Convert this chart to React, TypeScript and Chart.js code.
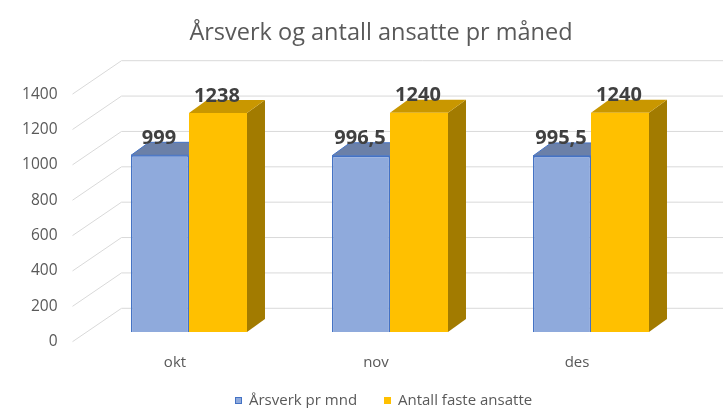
import React, { useEffect, useRef } from "react";
import { Chart, registerables } from "chart.js";

Chart.register(...registerables);

const TITLE = "Årsverk og antall ansatte pr måned";
const categories = ["okt", "nov", "des"];
const arsverk = [999, 996.5, 995.5];
const antallFaste = [1238, 1240, 1240];
const seriesNames = ["Årsverk pr mnd", "Antall faste ansatte"];
const yTicks = [0, 200, 400, 600, 800, 1000, 1200, 1400];

const FRONT = ["#8FAADC", "#FFC000"];
const TOP = ["#6B80A8", "#C99700"];
const SIDE = ["#5A6E93", "#A27B00"];
const BORDER = ["#4472C4", "#FFC000"];

const DX = 18;
const DY = -13;

const fmt = (v: number) => String(v).replace(".", ",");

const threeD = {
  id: "threeD",
  beforeDatasetsDraw(chart: any) {
    const ctx = chart.ctx as CanvasRenderingContext2D;
    const area = chart.chartArea;
    const ys = chart.scales.y;
    ctx.save();
    ctx.strokeStyle = "#D9D9D9";
    ctx.lineWidth = 1;
    for (const v of yTicks) {
      const yF = ys.getPixelForValue(v);
      ctx.beginPath();
      ctx.moveTo(area.left - 16, yF + 9.7);
      ctx.lineTo(area.left + 33, yF - 23.7);
      ctx.lineTo(chart.width, yF - 23.7);
      ctx.stroke();
    }
    chart.data.datasets.forEach((ds: any, di: number) => {
      const meta = chart.getDatasetMeta(di);
      meta.data.forEach((bar: any) => {
        const { x, y, base, width } = bar.getProps(["x", "y", "base", "width"], true);
        const l = x - width / 2;
        const r = x + width / 2;
        ctx.fillStyle = SIDE[di];
        ctx.beginPath();
        ctx.moveTo(r, y);
        ctx.lineTo(r + DX, y + DY);
        ctx.lineTo(r + DX, base + DY);
        ctx.lineTo(r, base);
        ctx.closePath();
        ctx.fill();
        ctx.fillStyle = TOP[di];
        ctx.beginPath();
        ctx.moveTo(l, y);
        ctx.lineTo(r, y);
        ctx.lineTo(r + DX, y + DY);
        ctx.lineTo(l + DX, y + DY);
        ctx.closePath();
        ctx.fill();
        if (di === 0) {
          ctx.strokeStyle = BORDER[0];
          ctx.lineWidth = 1;
          ctx.stroke();
        }
      });
    });
    ctx.restore();
  },
  afterDraw(chart: any) {
    const ctx = chart.ctx as CanvasRenderingContext2D;
    const ys = chart.scales.y;
    const xs = chart.scales.x;
    const area = chart.chartArea;
    ctx.save();
    ctx.fillStyle = "#404040";
    ctx.font = "bold 20px 'Open Sans'";
    ctx.textAlign = "center";
    ctx.textBaseline = "alphabetic";
    chart.data.datasets.forEach((ds: any, di: number) => {
      const meta = chart.getDatasetMeta(di);
      meta.data.forEach((bar: any, i: number) => {
        ctx.fillText(fmt(ds.data[i]), bar.x - 1, bar.y - 11.5);
      });
    });
    ctx.fillStyle = "#595959";
    ctx.font = "15.5px 'Open Sans'";
    ctx.textAlign = "right";
    ctx.textBaseline = "middle";
    for (const v of yTicks) {
      ctx.fillText(String(v), area.left - 31, ys.getPixelForValue(v) + 9.7);
    }
    ctx.textAlign = "center";
    ctx.textBaseline = "alphabetic";
    ctx.font = "15px 'Open Sans'";
    categories.forEach((c, i) => {
      ctx.fillText(c, xs.getPixelForValue(i) - 14, ys.getPixelForValue(0) + 34.7);
    });
    ctx.font = "23.5px 'Open Sans'";
    ctx.fillText(TITLE, 381, 39.5);
    ctx.font = "15px 'Open Sans'";
    ctx.textAlign = "left";
    const legendX = [235, 384];
    seriesNames.forEach((n, i) => {
      const bx = legendX[i];
      ctx.fillStyle = FRONT[i];
      ctx.fillRect(bx, 397, 7, 7);
      if (i === 0) {
        ctx.strokeStyle = BORDER[0];
        ctx.lineWidth = 1;
        ctx.strokeRect(bx + 0.5, 397.5, 6, 6);
      }
      ctx.fillStyle = "#595959";
      ctx.fillText(n, bx + 14, 404.5);
    });
    ctx.restore();
  },
};

export default function App() {
  const ref = useRef<HTMLCanvasElement | null>(null);
  useEffect(() => {
    document.body.style.margin = "0";
    if (!ref.current) return;
    const chart = new Chart(ref.current, {
      type: "bar",
      data: {
        labels: categories,
        datasets: [
          {
            label: seriesNames[0],
            data: arsverk,
            backgroundColor: FRONT[0],
            borderColor: BORDER[0],
            borderWidth: 1.5,
            categoryPercentage: 0.577,
            barPercentage: 1,
          },
          {
            label: seriesNames[1],
            data: antallFaste,
            backgroundColor: FRONT[1],
            borderWidth: 0,
            categoryPercentage: 0.577,
            barPercentage: 1,
          },
        ],
      },
      options: {
        animation: false,
        responsive: false,
        devicePixelRatio: 1,
        layout: { padding: { left: 88.5, right: 31.5, top: 84.4, bottom: 76 } },
        plugins: {
          legend: { display: false },
          title: { display: false },
          tooltip: { enabled: false },
        },
        scales: {
          x: { display: false },
          y: { display: false, min: 0, max: 1400 },
        },
      },
      plugins: [threeD],
    });
    return () => chart.destroy();
  }, []);
  return (
    <div style={{ width: 723, height: 408, background: "#fff" }}>
      <canvas ref={ref} width={723} height={408} />
    </div>
  );
}
